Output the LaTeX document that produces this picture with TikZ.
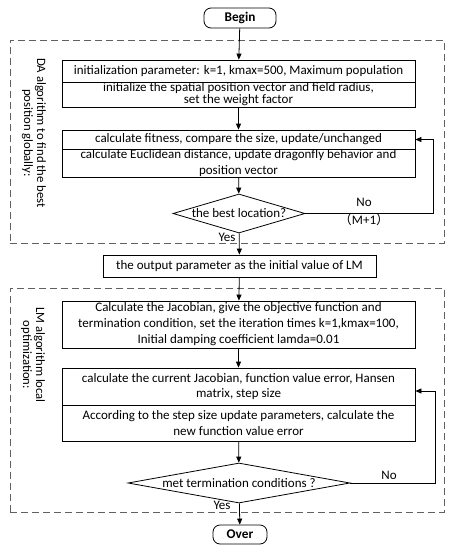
\documentclass[tikz,border=0pt]{standalone}
\usepackage{fontspec}
\setmainfont{Carlito}
\newfontfamily\cjkfont{Noto Sans CJK SC}
\usetikzlibrary{shapes.geometric,arrows.meta}
\newcommand{\fsz}{\fontsize{13}{15}\selectfont}
\begin{document}
\begin{tikzpicture}[x=1pt,y=-1pt,
  box/.style={draw, line width=0.8pt, minimum width=353pt, inner sep=0pt},
  txt/.style={font=\fsz, align=center, inner sep=0pt},
  term/.style={draw, line width=0.8pt, rounded corners=7pt, inner sep=0pt, font=\fontsize{13.3}{15}\selectfont\bfseries},
  dia/.style={draw, diamond, line width=0.8pt, inner sep=0pt},
  frame/.style={draw=black!62, dash pattern=on 7pt off 4pt, line width=0.8pt, inner sep=0pt},
  arr/.style={line width=0.8pt, -{Triangle[length=6pt,width=5pt]}},
  lab/.style={font=\fsz, inner sep=0pt},
  side/.style={font=\fontsize{12.7}{13}\selectfont, rotate=-90, align=center, inner sep=0pt}]
\useasboundingbox (0,0) rectangle (454,550);
\fill[white] (0,0) rectangle (454,550);
% frames
\node[frame, minimum width=434pt, minimum height=203pt] (f1) at (227,141.5) {};
\node[frame, minimum width=434pt, minimum height=224pt] (f2) at (227,400) {};
\node[side] (s1) at (34,133) {DA algorithm to find the best\\position globally:};
\node[side] (s2) at (33,355) {LM algorithm local\\optimization:};
% nodes
\node[term, minimum width=72pt, minimum height=20pt] (begin) at (240,18) {Begin};
\node[box, minimum height=22pt, label={[txt]center:initialization parameter: k=1, kmax=500, Maximum population}] (A1) at (238.5,71) {};
\node[box, minimum height=25pt, label={[txt, font={\fontsize{13}{12}\selectfont}]center:initialize the spatial position vector and field radius,\\set the weight factor}] (A2) at (238.5,94.5) {};
\node[box, minimum height=19pt, label={[txt]center:calculate fitness, compare the size, update/unchanged}] (B1) at (238.5,139.5) {};
\node[box, minimum height=28pt, label={[txt, font={\fontsize{13}{16}\selectfont}]center:calculate Euclidean distance, update dragonfly behavior and\\position vector}] (B2) at (238.5,163) {};
\node[dia, minimum width=132pt, minimum height=39pt, label={[lab]center:the best location?}] (d1) at (239,213.5) {};
\node[box, minimum width=273pt, minimum height=22pt, label={[txt]center:the output parameter as the initial value of LM}] (C) at (239.5,266) {};
\node[box, minimum height=47pt, label={[txt, font={\fontsize{13}{16}\selectfont}]center:Calculate the Jacobian, give the objective function and\\termination condition, set the iteration times k=1,kmax=100,\\Initial damping coefficient lamda=0.01}] (D) at (238.5,324.5) {};
\node[box, minimum height=37pt, label={[txt]center:calculate the current Jacobian, function value error, Hansen\\matrix, step size}] (E1) at (238.5,386.5) {};
\node[box, minimum height=36pt, label={[txt, font={\fontsize{13}{16}\selectfont}]center:According to the step size update parameters, calculate the\\new function value error}] (E2) at (238.5,423) {};
\node[dia, minimum width=222pt, minimum height=40pt, label={[lab]center:met termination conditions ?}] (d2) at (239,483) {};
\node[term, minimum width=54pt, minimum height=19pt] (over) at (240,534.5) {Over};
% loop corners
\coordinate (r1) at (433,213.5);
\coordinate (r2) at (435,483);
\coordinate (r2t) at (435,391);
% arrows
\draw[arr] (begin) -- (A1);
\draw[arr] (A2) -- (B1);
\draw[arr] (B2) -- (d1);
\draw[arr] (d1) -- (C);
\draw[arr] (C) -- (D);
\draw[arr] (D) -- (E1);
\draw[arr] (E2) -- (d2);
\draw[arr] (d2) -- (over);
\draw[arr] (d1.east) -- (r1) |- (B1.east);
\draw[arr] (d2.east) -- (r2) -- (r2t) -- (r2t -| E1.east);
% labels
\node[lab] (no1) at (364,202) {No};
\node[lab] (m1) at (364,220) {{\cjkfont （}M+1{\cjkfont ）}};
\node[lab] (yes1) at (227,237) {Yes};
\node[lab] (no2) at (389,475) {No};
\node[lab] (yes2) at (222,505) {Yes};
\end{tikzpicture}
\end{document}
